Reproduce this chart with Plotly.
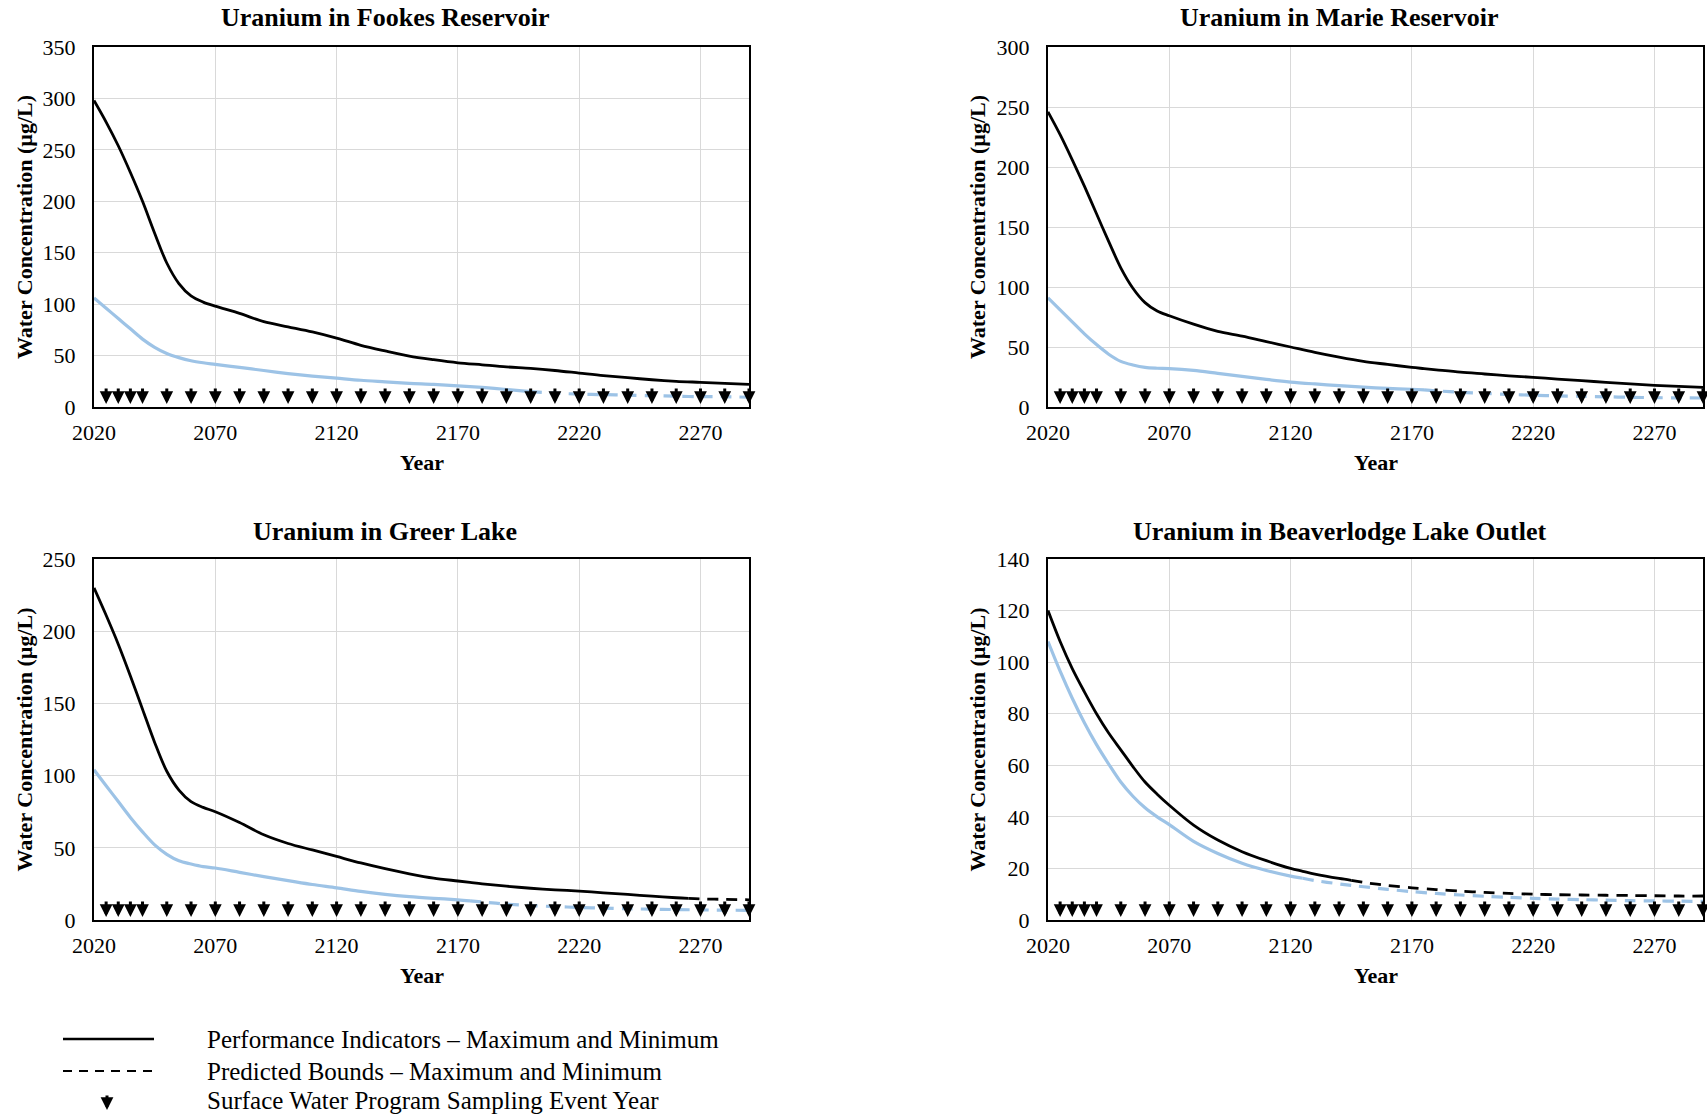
import plotly.graph_objects as go
from plotly.subplots import make_subplots

# ---------------- data ----------------
SITES = ["Uranium in Fookes Reservoir", "Uranium in Marie Reservoir",
         "Uranium in Greer Lake", "Uranium in Beaverlodge Lake Outlet"]

fookes_years = [2020, 2025, 2030, 2035, 2040, 2045, 2050, 2055, 2060, 2065, 2070,
                2080, 2090, 2100, 2110, 2120, 2130, 2140, 2150, 2160, 2170, 2180,
                2190, 2200, 2210, 2220, 2230, 2240, 2250, 2260, 2270, 2280, 2290]
fookes_max = [298, 277, 254, 228, 200, 169, 140, 120, 108, 102, 98,
              91, 83, 78, 73, 67, 60, 54.5, 49.5, 46, 43, 41,
              39, 37.5, 35.5, 33, 30.5, 28.5, 26.5, 25, 24, 23, 22]
fookes_min = [106, 96, 86, 76, 66, 58, 52, 48, 45, 43, 41.5,
              38.5, 35.5, 32.5, 30, 28, 26, 24.5, 23, 22, 20.5, 19,
              17, 15, 13.5, 12.5, 12, 11.5, 11, 10.5, 10, 10, 9.5]
fookes_max_dash_from = None
fookes_min_dash_from = 2200

marie_years = [2020, 2025, 2030, 2035, 2040, 2045, 2050, 2055, 2060, 2065, 2070,
               2080, 2090, 2100, 2110, 2120, 2130, 2140, 2150, 2160, 2170, 2175, 2180,
               2190, 2200, 2210, 2220, 2230, 2240, 2250, 2260, 2270, 2280, 2290]
marie_max = [246, 227, 206, 184, 161, 138, 116, 99, 87, 80, 76,
             69, 63, 59, 54.5, 50, 45.5, 41.5, 38, 35.5, 33, 32, 31,
             29, 27.5, 26, 24.7, 23.3, 22, 20.5, 19.2, 18, 17.2, 16.4]
marie_min = [91, 81, 71, 61, 52, 44, 38, 35, 33, 32.3, 32,
             30.5, 28, 25.5, 23, 20.8, 19.2, 17.8, 16.5, 15.5, 14.8, 14.3, 13.5,
             12.3, 11.3, 10.5, 9.8, 9.3, 8.9, 8.5, 8.1, 7.8, 7.6, 7.5]
marie_max_dash_from = None
marie_min_dash_from = 2175

greer_years = [2020, 2025, 2030, 2035, 2040, 2045, 2050, 2055, 2060, 2065, 2070,
               2080, 2090, 2100, 2110, 2120, 2130, 2140, 2150, 2160, 2170, 2175, 2180,
               2190, 2200, 2210, 2220, 2230, 2240, 2250, 2260, 2265, 2270, 2280, 2290]
greer_max = [230, 211, 191, 169, 146, 123, 103, 90, 82, 78, 75,
             67.5, 59, 53, 48.5, 44, 39.5, 35.5, 32, 29, 27, 26, 25,
             23.4, 22, 20.9, 20, 18.8, 17.7, 16.5, 15.4, 15, 14.6, 14.3, 14]
greer_min = [104, 93, 82, 71, 61, 52, 45.5, 41, 38.8, 37, 36,
             33, 30, 27.3, 24.6, 22.3, 19.8, 17.8, 16.2, 15, 14, 13.3, 12.5,
             11, 10, 9.3, 8.7, 8.2, 7.8, 7.5, 7.2, 7.1, 7, 6.8, 6.7]
greer_max_dash_from = 2265
greer_min_dash_from = 2175

beaver_years = [2020, 2025, 2030, 2035, 2040, 2045, 2050, 2055, 2060, 2065, 2070,
                2080, 2090, 2100, 2110, 2120, 2125, 2130, 2140, 2145, 2150, 2160, 2170, 2180,
                2190, 2200, 2210, 2220, 2230, 2240, 2250, 2260, 2270, 2280, 2290]
beaver_max = [120, 108, 97.5, 88.5, 80, 72.5, 66, 59.5, 53.5, 48.8, 44.5,
              36.8, 31, 26.5, 23, 20, 18.9, 17.8, 16.1, 15.4, 14.6, 13.4, 12.5, 11.8,
              11.2, 10.7, 10.3, 10, 9.8, 9.7, 9.6, 9.5, 9.4, 9.3, 9.3]
beaver_min = [108, 96.5, 86, 76.5, 68, 60.5, 53.5, 48, 43.5, 40, 37,
              30.5, 25.8, 22, 19.2, 17, 16.2, 15.3, 14, 13.4, 12.9, 11.9, 11, 10.3,
              9.7, 9.2, 8.8, 8.4, 8.1, 7.9, 7.7, 7.5, 7.4, 7.3, 7.2]
beaver_max_dash_from = 2145
beaver_min_dash_from = 2125

Y_MAX = [350, 300, 250, 140]
Y_DTICK = [50, 50, 50, 20]

SAMPLING_YEARS = [2025, 2030, 2035, 2040, 2050, 2060, 2070, 2080, 2090, 2100, 2110,
                  2120, 2130, 2140, 2150, 2160, 2170, 2180, 2190, 2200, 2210, 2220,
                  2230, 2240, 2250, 2260, 2270, 2280, 2290]
X_TICKS = [2020, 2070, 2120, 2170, 2220, 2270]
X_RANGE = [2020, 2290]

LEGEND_LABELS = ["Performance Indicators – Maximum and Minimum",
                 "Predicted Bounds – Maximum and Minimum",
                 "Surface Water Program Sampling Event Year"]

# ---------------- layout geometry (px) ----------------
W, H = 1707, 1115
BLACK = "#000000"
BLUE = "#9DC3E6"
FONT = "Liberation Serif, Times New Roman, serif"

def px(x):
    return x / W

def py(y):
    return 1 - y / H

col_x = [(94, 749), (1048, 1703)]
row_y = [(47, 407), (559, 920)]
title_cx = [385, 1339]
ytitle_x = [24, 977]
title_y = [18, 531]
year_y = [462, 975]

site_data = [
    (fookes_years, fookes_max, fookes_min, fookes_max_dash_from, fookes_min_dash_from),
    (marie_years, marie_max, marie_min, marie_max_dash_from, marie_min_dash_from),
    (greer_years, greer_max, greer_min, greer_max_dash_from, greer_min_dash_from),
    (beaver_years, beaver_max, beaver_min, beaver_max_dash_from, beaver_min_dash_from),
]

fig = make_subplots(rows=2, cols=2)

def add_series(years, vals, dash_from, color, width, row, col):
    if dash_from is None:
        solid_x, solid_y, dash_x, dash_y = years, vals, [], []
    else:
        solid_x = [x for x in years if x <= dash_from]
        solid_y = [v for x, v in zip(years, vals) if x <= dash_from]
        dash_x = [x for x in years if x >= dash_from]
        dash_y = [v for x, v in zip(years, vals) if x >= dash_from]
    fig.add_trace(go.Scatter(x=solid_x, y=solid_y, mode="lines",
                             line=dict(color=color, width=width, shape="spline", smoothing=0.9),
                             showlegend=False, hoverinfo="skip"), row=row, col=col)
    if dash_x:
        fig.add_trace(go.Scatter(x=dash_x, y=dash_y, mode="lines",
                                 line=dict(color=color, width=width, shape="spline",
                                           smoothing=0.9, dash="11px,8px"),
                                 showlegend=False, hoverinfo="skip"), row=row, col=col)

ARROW = dict(arrowhead=2, arrowsize=0.85, arrowwidth=3, arrowcolor=BLACK)

annotations = []
for i, (years, vmax, vmin, dmax, dmin) in enumerate(site_data):
    r, c = i // 2 + 1, i % 2 + 1
    add_series(years, vmin, dmin, BLUE, 3.2, r, c)
    add_series(years, vmax, dmax, BLACK, 2.8, r, c)

    x0, x1 = col_x[c - 1]
    y0, y1 = row_y[r - 1]
    axn = "" if i == 0 else str(i + 1)
    fig.update_layout(**{
        f"xaxis{axn}": dict(domain=[px(x0), px(x1)], range=X_RANGE, tickvals=X_TICKS,
                            showgrid=True, gridcolor="#D9D9D9", gridwidth=1, automargin=False,
                            showline=True, mirror=True, linecolor=BLACK, linewidth=2,
                            ticks="outside", ticklen=5, tickcolor="rgba(0,0,0,0)",
                            tickfont=dict(family=FONT, size=22, color=BLACK), zeroline=False),
        f"yaxis{axn}": dict(domain=[py(y1), py(y0)], range=[0, Y_MAX[i]], dtick=Y_DTICK[i],
                            showgrid=True, gridcolor="#D9D9D9", gridwidth=1, automargin=False,
                            showline=True, mirror=True, linecolor=BLACK, linewidth=2,
                            ticks="outside", ticklen=12, tickcolor="rgba(0,0,0,0)",
                            tickfont=dict(family=FONT, size=22, color=BLACK), zeroline=False),
    })
    xref, yref = f"x{axn}", f"y{axn}"
    # sampling event arrows
    for yr in SAMPLING_YEARS:
        annotations.append(dict(x=yr, y=0, xref=xref, yref=yref, text="", showarrow=True,
                                ax=0, ay=-20, standoff=3, **ARROW))
    # chart title
    annotations.append(dict(x=px(title_cx[c - 1]), y=py(title_y[r - 1]), xref="paper", yref="paper",
                            text=f"<b>{SITES[i]}</b>", showarrow=False,
                            font=dict(family=FONT, size=26, color=BLACK),
                            xanchor="center", yanchor="middle"))
    # y title
    annotations.append(dict(x=px(ytitle_x[c - 1]), y=py((y0 + y1) / 2), xref="paper", yref="paper",
                            text="<b>Water Concentration (µg/L)</b>", showarrow=False, textangle=-90,
                            font=dict(family=FONT, size=22, color=BLACK),
                            xanchor="center", yanchor="middle"))
    # x title
    annotations.append(dict(x=px((x0 + x1) / 2), y=py(year_y[r - 1]), xref="paper", yref="paper",
                            text="<b>Year</b>", showarrow=False,
                            font=dict(family=FONT, size=22, color=BLACK),
                            xanchor="center", yanchor="middle"))

# ---------------- legend (drawn manually) ----------------
leg_rows = [1039, 1071, 1100]
shapes = [
    dict(type="line", xref="paper", yref="paper", x0=px(63), x1=px(154), y0=py(leg_rows[0]),
         y1=py(leg_rows[0]), line=dict(color=BLACK, width=2.5)),
    dict(type="line", xref="paper", yref="paper", x0=px(63), x1=px(154), y0=py(leg_rows[1]),
         y1=py(leg_rows[1]), line=dict(color=BLACK, width=2, dash="9px,7px")),
]
annotations.append(dict(x=px(107), y=py(leg_rows[2] + 10), xref="paper", yref="paper", text="",
                        showarrow=True, ax=0, ay=-16, standoff=0, **ARROW))
for lbl, yy in zip(LEGEND_LABELS, leg_rows):
    annotations.append(dict(x=px(205), y=py(yy), xref="paper", yref="paper", text=lbl,
                            showarrow=False, xanchor="left", yanchor="middle",
                            font=dict(family=FONT, size=25, color=BLACK)))

fig.update_layout(width=W, height=H, margin=dict(l=0, r=0, t=0, b=0, autoexpand=False),
                  paper_bgcolor="white", plot_bgcolor="white", showlegend=False,
                  annotations=annotations, shapes=shapes,
                  font=dict(family=FONT, color=BLACK))

fig.write_html("out.html", config={"displayModeBar": False},
               post_script="document.body.style.margin='0px';")
